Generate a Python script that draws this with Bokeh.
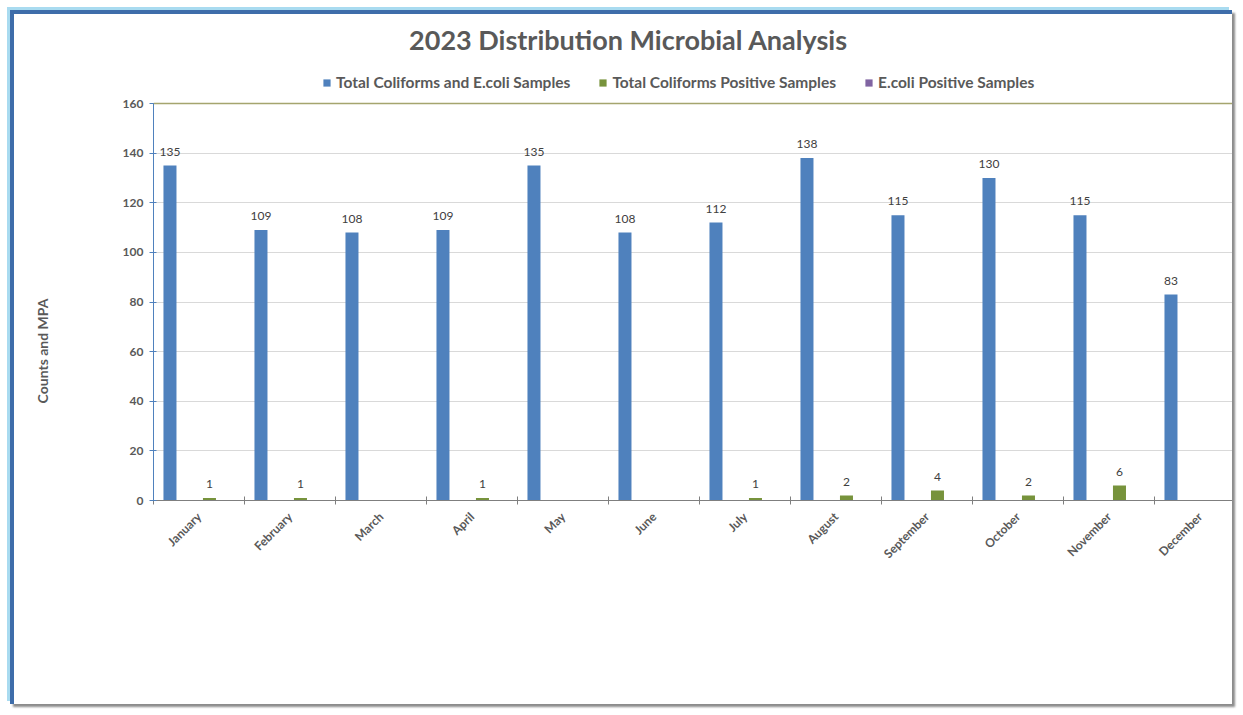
import math
from bokeh.plotting import figure
from bokeh.models import (ColumnDataSource, Range1d, FixedTicker, Legend, LegendItem,
                          Label, Span, LinearAxis)
from bokeh.core.properties import value
from bokeh.embed import file_html
from bokeh.resources import INLINE

months = ["January", "February", "March", "April", "May", "June", "July",
          "August", "September", "October", "November", "December"]
total_samples = [135, 109, 108, 109, 135, 108, 112, 138, 115, 130, 115, 83]
tc_positive = [1, 1, 0, 1, 0, 0, 1, 2, 4, 2, 6, 0]
ecoli_positive = [0, 0, 0, 0, 0, 0, 0, 0, 0, 0, 0, 0]
series_names = ["Total Coliforms and E.coli Samples",
                "Total Coliforms Positive Samples",
                "E.coli Positive Samples"]
y_ticks = [0, 20, 40, 60, 80, 100, 120, 140, 160]
y_title = "Counts and MPA"

BLUE = "#4f81bd"
GREEN = "#77933c"
PURPLE = "#8064a2"
TXT = "#595959"
FONT = "Lato"

idx = list(range(len(months)))
src = ColumnDataSource(dict(
    xb=[i + 0.181 for i in idx],
    xg=[i + 0.615 for i in idx],
    xp=[i + 0.76 for i in idx],
    total=total_samples,
    tc=tc_positive,
    ec=ecoli_positive,
    lt=[str(v) for v in total_samples],
    lg=[str(v) if v > 0 else "" for v in tc_positive],
))

p = figure(width=1222, height=694, output_backend="svg", toolbar_location=None,
           title_location=None,
           x_range=Range1d(0, 11.879), y_range=Range1d(0, 195.87),
           min_border_left=139, min_border_right=2, min_border_top=0,
           min_border_bottom=208)
p.styles = {"margin-left": "10px", "margin-top": "10px",
            "border-left": "4px solid #3e6daa", "border-top": "4px solid #3e6daa",
            "box-shadow": "-3px -3px 0 0 #a9dbf0, 3px 3px 2px #8c8c8c"}

bw = 0.143
rb = p.vbar(x="xb", top="total", width=bw, source=src, fill_color=BLUE, line_color=None)
rg = p.vbar(x="xg", top="tc", width=bw, source=src, fill_color=GREEN, line_color=None)
rp = p.vbar(x="xp", top="ec", width=bw, source=src, fill_color=PURPLE, line_color=None)

p.text(x="xb", y="total", text="lt", source=src, text_align="center",
       text_baseline="bottom", y_offset=-10, text_font=value(FONT),
       text_font_size="12px", text_color="#404040")
p.text(x="xg", y="tc", text="lg", source=src, text_align="center",
       text_baseline="bottom", y_offset=-10, text_font=value(FONT),
       text_font_size="12px", text_color="#404040")

# top border of plot area
p.add_layout(Span(location=160, dimension="width", line_color="#a5a56e", line_width=1.5))

# title
p.add_layout(Label(x=5.22, y=185.8, text="2023 Distribution Microbial Analysis",
                   text_align="center", text_baseline="middle", text_font=FONT,
                   text_font_size="27px", text_font_style="bold", text_color=TXT))

legend = Legend(items=[LegendItem(label=series_names[0], renderers=[rb]),
                       LegendItem(label=series_names[1], renderers=[rg]),
                       LegendItem(label=series_names[2], renderers=[rp])],
                orientation="horizontal", location=(169, 409),
                glyph_width=9, glyph_height=9, spacing=28, label_standoff=5,
                label_text_font=FONT, label_text_font_size="15.5px",
                label_text_font_style="bold", label_text_color=TXT,
                border_line_color=None, background_fill_alpha=0,
                padding=4, margin=0)
p.add_layout(legend, "center")

# axes
p.yaxis.bounds = (0, 160)
p.yaxis.ticker = FixedTicker(ticks=y_ticks)
p.yaxis.axis_line_color = BLUE
p.yaxis.major_tick_line_color = BLUE
p.yaxis.major_tick_in = 3
p.yaxis.major_tick_out = 4
p.yaxis.minor_tick_line_color = None
p.yaxis.major_label_text_font = FONT
p.yaxis.major_label_text_font_size = "12px"
p.yaxis.major_label_text_font_style = "bold"
p.yaxis.major_label_text_color = TXT
p.yaxis.major_label_standoff = 6

# y-axis title, placed as a single tick label at the position Excel uses
ylab = LinearAxis(ticker=FixedTicker(ticks=[81.4]),
                  major_label_overrides={81.4: y_title},
                  major_label_orientation=math.pi / 2,
                  axis_line_color=None, major_tick_line_color=None,
                  minor_tick_line_color=None, major_tick_out=0, major_tick_in=0,
                  major_label_standoff=77,
                  major_label_text_font=FONT, major_label_text_font_size="14px",
                  major_label_text_font_style="bold", major_label_text_color=TXT)
p.add_layout(ylab, "left")

p.xaxis.ticker = FixedTicker(ticks=[i + 0.5 for i in idx], minor_ticks=list(range(len(months) + 1)))
p.xaxis.major_label_overrides = {i + 0.5: m for i, m in zip(idx, months)}
p.xaxis.major_tick_line_color = None
p.xaxis.minor_tick_line_color = "#7f7f7f"
p.xaxis.minor_tick_in = 4
p.xaxis.minor_tick_out = 4
p.xaxis.axis_line_color = "#7f7f7f"
p.xaxis.major_label_orientation = math.pi / 4
p.xaxis.major_label_text_font = FONT
p.xaxis.major_label_text_font_size = "12px"
p.xaxis.major_label_text_font_style = "bold"
p.xaxis.major_label_text_color = TXT
p.xaxis.major_label_standoff = 8

p.xgrid.grid_line_color = None
p.ygrid.grid_line_color = "#d9d9d9"
p.ygrid.ticker = FixedTicker(ticks=y_ticks[1:-1])
p.outline_line_color = None

open("out.html", "w").write(file_html(p, INLINE))
